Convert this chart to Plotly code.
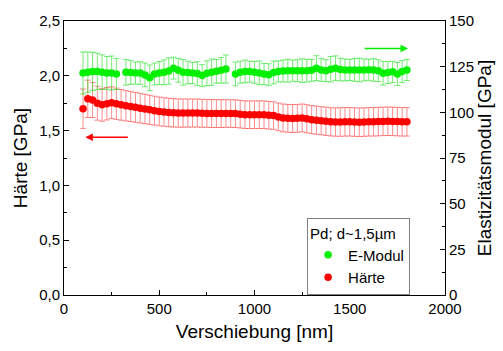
import plotly.graph_objects as go

# ---- data ----
displacement_nm = [100, 125, 150, 175, 200, 225, 250, 275, 300, 325, 350, 375, 400, 425, 450, 475,
                   500, 525, 550, 575, 600, 625, 650, 675, 700, 725, 750, 775, 800, 825, 850, 875,
                   900, 925, 950, 975, 1000, 1025, 1050, 1075, 1100, 1125, 1150, 1175, 1200, 1225,
                   1250, 1275, 1300, 1325, 1350, 1375, 1400, 1425, 1450, 1475, 1500, 1525, 1550,
                   1575, 1600, 1625, 1650, 1675, 1700, 1725, 1750, 1775, 1800]

e_modul_gpa = [121.5, 122.0, 122.4, 122.4, 122.0, 121.6, 121.5, 121.0, None, 121.9, 121.8, 121.5,
               121.5, 120.5, 118.9, 121.0, 121.5, 121.9, 122.6, 124.2, 123.0, 121.9, 121.8, 121.5,
               121.2, 120.1, 121.4, 122.0, 122.5, 123.0, 123.7, None, 121.0, 122.0, 122.4, 122.3,
               121.9, 121.6, 121.0, 120.6, 121.8, 122.4, 122.6, 122.8, 122.8, 122.8, 122.8, 122.8,
               123.0, 124.2, 123.2, 122.8, 123.6, 124.2, 123.4, 123.2, 123.2, 123.2, 123.2, 123.2,
               123.3, 123.2, 122.8, 121.4, 121.8, 122.2, 121.0, 122.3, 123.2]

e_modul_err = [11.5, 11.0, 10.5, 10.0, 9.5, 9.0, 9.3, 8.5, None, 7.0, 6.5, 6.0, 6.2, 6.5, 7.0, 6.0,
               6.3, 6.8, 7.2, 6.0, 6.5, 7.0, 6.2, 5.8, 6.5, 6.0, 6.8, 7.2, 6.5, 7.0, 7.7, None,
               6.5, 6.0, 6.2, 5.8, 6.0, 6.5, 5.8, 6.0, 6.2, 5.8, 6.0, 6.3, 5.8, 6.0, 6.5, 6.2,
               6.0, 6.8, 6.2, 6.0, 7.0, 6.7, 6.2, 6.0, 5.8, 6.2, 6.5, 6.0, 5.8, 6.2, 6.0, 6.5,
               6.0, 5.8, 6.3, 6.0, 5.8]

haerte_gpa = [1.70, 1.79, 1.78, 1.75, 1.735, 1.745, 1.755, 1.745, 1.735, 1.726, 1.72, 1.712, 1.705,
              1.697, 1.69, 1.682, 1.675, 1.67, 1.665, 1.662, 1.66, 1.66, 1.66, 1.66, 1.66, 1.658,
              1.657, 1.656, 1.655, 1.655, 1.656, 1.655, 1.655, 1.65, 1.645, 1.645, 1.645, 1.645,
              1.645, 1.64, 1.637, 1.625, 1.616, 1.612, 1.61, 1.612, 1.616, 1.608, 1.60, 1.595,
              1.59, 1.585, 1.58, 1.578, 1.578, 1.58, 1.58, 1.578, 1.576, 1.578, 1.58, 1.58, 1.582,
              1.584, 1.585, 1.584, 1.582, 1.58, 1.58]

haerte_err = [0.18, 0.17, 0.16, 0.155, 0.15, 0.148, 0.145, 0.143, 0.14, 0.138, 0.137, 0.136, 0.135,
              0.134, 0.133, 0.132, 0.131, 0.13, 0.13, 0.13, 0.129, 0.129, 0.128, 0.128, 0.128,
              0.128, 0.127, 0.127, 0.127, 0.127, 0.126, 0.126, 0.126, 0.126, 0.126, 0.126, 0.126,
              0.126, 0.126, 0.126, 0.126, 0.127, 0.127, 0.127, 0.127, 0.127, 0.127, 0.128, 0.128,
              0.128, 0.128, 0.129, 0.129, 0.129, 0.13, 0.13, 0.13, 0.13, 0.13, 0.13, 0.13, 0.13,
              0.13, 0.13, 0.13, 0.13, 0.13, 0.13, 0.13]

legend_title = "Pd; d~1,5µm"
FONT = "Liberation Sans, Arial, sans-serif"

GREEN = "rgb(0,240,0)"
RED = "rgb(255,0,0)"

fig = go.Figure()

fig.add_trace(go.Scatter(
    x=displacement_nm, y=e_modul_gpa, name="E-Modul", mode="markers", yaxis="y2",
    marker=dict(color=GREEN, size=7.5),
    error_y=dict(type="data", array=e_modul_err, visible=True,
                 color="rgba(0,220,0,0.55)", thickness=1, width=3),
))
fig.add_trace(go.Scatter(
    x=displacement_nm, y=haerte_gpa, name="Härte", mode="markers", yaxis="y",
    marker=dict(color=RED, size=7.5),
    error_y=dict(type="data", array=haerte_err, visible=True,
                 color="rgba(255,0,0,0.45)", thickness=1, width=3),
))

axis_common = dict(showline=True, linecolor="black", linewidth=1, ticks="inside", ticklen=5,
                   tickcolor="black", showgrid=False, zeroline=False,
                   tickfont=dict(family=FONT, size=15, color="black"))

fig.update_layout(
    width=503, height=351,
    margin=dict(l=64, r=58, t=14, b=56),
    paper_bgcolor="white", plot_bgcolor="white",
    separators=",.",
    font=dict(family=FONT, color="black"),
    xaxis=dict(range=[0, 2000], dtick=500, mirror=True,
               title=dict(text="Verschiebung [nm]", font=dict(family=FONT, size=19), standoff=8),
               minor=dict(ticks="inside", ticklen=3, dtick=250, tickcolor="black"),
               **axis_common),
    yaxis=dict(range=[0, 2.5], dtick=0.5, tickformat=".1f",
               title=dict(text="Härte [GPa]", font=dict(family=FONT, size=19), standoff=6),
               minor=dict(ticks="inside", ticklen=3, dtick=0.25, tickcolor="black"),
               **axis_common),
    yaxis2=dict(range=[0, 150], dtick=25, overlaying="y", side="right",
                title=dict(text="Elastizitätsmodul [GPa]", font=dict(family=FONT, size=19), standoff=4),
                minor=dict(ticks="inside", ticklen=3, dtick=12.5, tickcolor="black"),
                **axis_common),
    showlegend=True,
    legend=dict(x=0.638, y=0.281, xanchor="left", yanchor="top",
                bgcolor="white", bordercolor="#808080", borderwidth=1,
                font=dict(family=FONT, size=15, color="black"),
                title=dict(text=legend_title, font=dict(family=FONT, size=15)),
                itemsizing="trace", tracegroupgap=0),
)

# direction arrows
fig.add_annotation(x=112, y=1.44, ax=343, ay=1.44, xref="x", yref="y", axref="x", ayref="y",
                   showarrow=True, arrowhead=2, arrowsize=1, arrowwidth=1.5, arrowcolor=RED, text="")
fig.add_annotation(x=1806, y=2.25, ax=1570, ay=2.25, xref="x", yref="y", axref="x", ayref="y",
                   showarrow=True, arrowhead=2, arrowsize=1, arrowwidth=1.5, arrowcolor=GREEN, text="")

fig.write_html("out.html")
